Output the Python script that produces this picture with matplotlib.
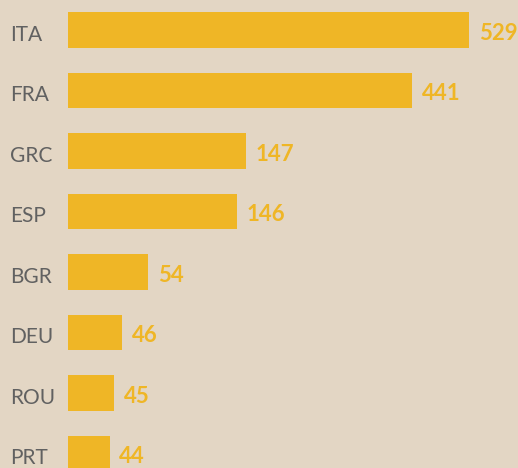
import matplotlib
matplotlib.use("Agg")
import matplotlib.pyplot as plt

# country codes, printed values and bar lengths (as drawn)
countries = ["ITA", "FRA", "GRC", "ESP", "BGR", "DEU", "ROU", "PRT"]
values = [529, 441, 147, 146, 54, 46, 45, 44]
bar_lengths = [529, 454, 235, 223, 106, 71, 61, 55]

BG = "#E3D6C4"
GOLD = "#EFB626"
GREY = "#616161"

W, H = 518, 468
fig = plt.figure(figsize=(W / 100, H / 100), dpi=100, facecolor=BG)
ax = fig.add_axes([68 / W, 0, 1 - 68 / W, 1])
ax.set_facecolor(BG)

pos = list(range(len(countries)))
ax.barh(pos, bar_lengths, height=0.595, color=GOLD, left=0)

for y, length, v in zip(pos, bar_lengths, values):
    ax.annotate(str(v), (length, y), xytext=(7, -1), textcoords="offset points",
                ha="left", va="center_baseline", color=GOLD, fontsize=16,
                fontweight="bold", family="Lato")

for y, c in zip(pos, countries):
    ax.annotate(c, (0, y), xycoords=("axes fraction", "data"),
                xytext=(-58 * 0.72, -2), textcoords="offset points",
                ha="left", va="center_baseline", color=GREY, fontsize=15,
                fontweight="normal", family="Lato", annotation_clip=False)

ax.set_xlim(0, 450 / 0.758)
ax.set_ylim((H - 30) / 60.5, -30 / 60.5)
ax.axis("off")

fig.savefig("out.png", dpi=100, facecolor=BG)
